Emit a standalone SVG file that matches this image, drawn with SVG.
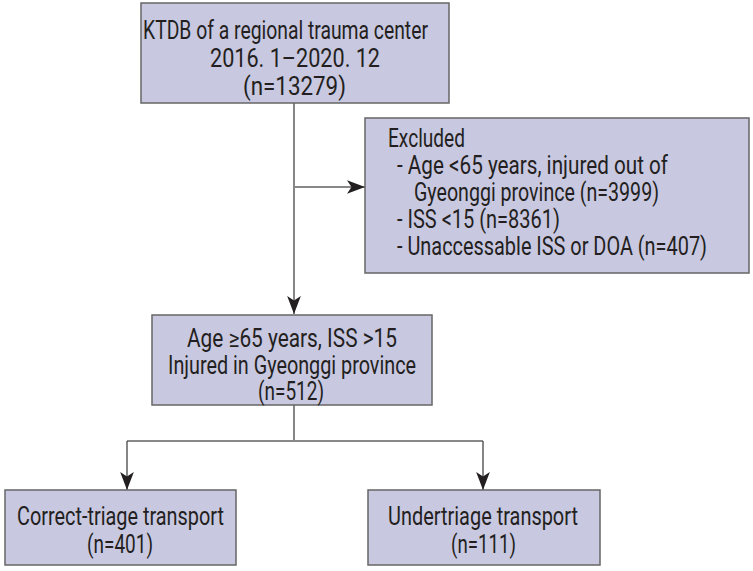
<svg xmlns="http://www.w3.org/2000/svg" width="753" height="571" viewBox="0 0 753 571">
<defs>
<style>
.box{fill:#c9c8e1;stroke:#666;stroke-width:1.5}
.t{font-family:Roboto,"Liberation Sans",sans-serif;font-size:25px;fill:#231f20}
.ln{fill:none;stroke:#444;stroke-width:1.3}
.ln2{fill:none;stroke:#888;stroke-width:2}
</style>
<marker id="ahb" viewBox="0 0 10 10" refX="10" refY="5" markerWidth="18" markerHeight="18" markerUnits="userSpaceOnUse" orient="auto">
<path d="M0,1.2 L10,5 L0,8.8 L2.5,5 Z" fill="#231f20"/>
</marker>
</defs>
<g id="connectors">
<path class="ln" d="M294,103 V314" marker-end="url(#ahb)"/>
<path class="ln2" d="M294,187 H365" marker-end="url(#ahb)"/>
<path class="ln" d="M294,405 V441"/>
<path class="ln2" d="M127,441 H483"/>
<path class="ln" d="M127,441 V490" marker-end="url(#ahb)"/>
<path class="ln" d="M483,441 V490" marker-end="url(#ahb)"/>
</g>
<g id="n1">
<rect class="box" x="141" y="3" width="308" height="100"/>
<text class="t" x="143" y="39" textLength="285" lengthAdjust="spacingAndGlyphs">KTDB of a regional trauma center</text>
<text class="t" x="210" y="67" textLength="170" lengthAdjust="spacingAndGlyphs">2016. 1–2020. 12</text>
<text class="t" x="243" y="95" textLength="103" lengthAdjust="spacingAndGlyphs">(n=13279)</text>
</g>
<g id="n2">
<rect class="box" x="365" y="118" width="384" height="155"/>
<text class="t" x="388" y="147" textLength="77" lengthAdjust="spacingAndGlyphs">Excluded</text>
<text class="t" x="397" y="174" textLength="271" lengthAdjust="spacingAndGlyphs">- Age &lt;65 years, injured out of</text>
<text class="t" x="414" y="201" textLength="245" lengthAdjust="spacingAndGlyphs">Gyeonggi province (n=3999)</text>
<text class="t" x="397" y="228" textLength="163" lengthAdjust="spacingAndGlyphs">- ISS &lt;15 (n=8361)</text>
<text class="t" x="397" y="255" textLength="310" lengthAdjust="spacingAndGlyphs">- Unaccessable ISS or DOA (n=407)</text>
</g>
<g id="n3">
<rect class="box" x="152" y="315" width="280" height="90"/>
<text class="t" x="187" y="347" textLength="210" lengthAdjust="spacingAndGlyphs">Age ≥65 years, ISS &gt;15</text>
<text class="t" x="168" y="374" textLength="248" lengthAdjust="spacingAndGlyphs">Injured in Gyeonggi province</text>
<text class="t" x="258" y="400" textLength="66" lengthAdjust="spacingAndGlyphs">(n=512)</text>
</g>
<g id="n4">
<rect class="box" x="5" y="490" width="231" height="75"/>
<text class="t" x="17" y="525" textLength="207" lengthAdjust="spacingAndGlyphs">Correct-triage transport</text>
<text class="t" x="87" y="553" textLength="66" lengthAdjust="spacingAndGlyphs">(n=401)</text>
</g>
<g id="n5">
<rect class="box" x="368" y="490" width="232" height="75"/>
<text class="t" x="388" y="525" textLength="190" lengthAdjust="spacingAndGlyphs">Undertriage transport</text>
<text class="t" x="451" y="553" textLength="65" lengthAdjust="spacingAndGlyphs">(n=111)</text>
</g>
</svg>
